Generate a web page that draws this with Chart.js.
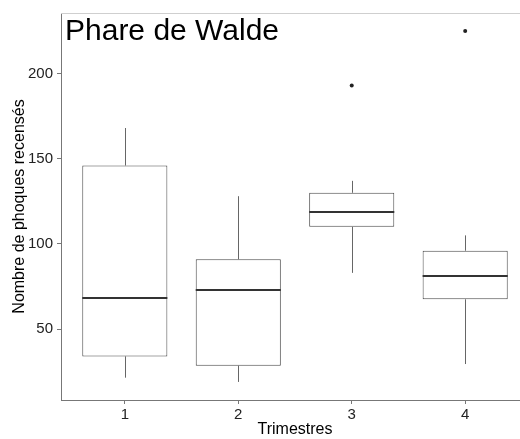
<!DOCTYPE html>
<html>
<head>
<meta charset="utf-8">
<script src="https://cdn.jsdelivr.net/npm/chart.js@4.4.0/dist/chart.umd.min.js"></script>
<style>
  html, body { margin: 0; padding: 0; background: #fff; overflow: hidden; }
  #wrap { width: 533px; height: 439px; position: relative; }
</style>
</head>
<body>
<div id="wrap"><canvas id="chart"></canvas></div>
<script>
  // boxplot stats per trimestre
  const categories  = ['1', '2', '3', '4'];
  const whiskerLow  = [21.5, 19, 83, 29.5];
  const q1          = [34, 28.5, 110, 67.5];
  const median      = [68.5, 73, 119, 81];
  const q3          = [146, 91, 130, 96];
  const whiskerHigh = [168, 128, 137, 105];
  const outlierX    = [3, 4];
  const outlierY    = [193, 225];
  const yTicks      = [50, 100, 150, 200];
  const chartTitle  = 'Phare de Walde';
  const xTitle      = 'Trimestres';
  const yTitle      = 'Nombre de phoques recensés';

  const fontFamily = '"Liberation Sans", Arial, sans-serif';

  const boxPlot = {
    id: 'boxPlot',
    beforeDatasetsDraw(chart) {
      let
        ctx = chart.ctx,
        x = chart.scales.x,
        y = chart.scales.y;

      ctx.save();
      ctx.strokeStyle = '#666';
      ctx.lineWidth = 1;
      categories.forEach(function(c, i) {
        let px = Math.round(x.getPixelForValue(i + 1)) + 0.5;
        ctx.beginPath();
        ctx.moveTo(px, y.getPixelForValue(whiskerHigh[i]));
        ctx.lineTo(px, y.getPixelForValue(q3[i]));
        ctx.moveTo(px, y.getPixelForValue(q1[i]));
        ctx.lineTo(px, y.getPixelForValue(whiskerLow[i]));
        ctx.stroke();
      });
      ctx.restore();
    },
    afterDatasetsDraw(chart) {
      let
        ctx  = chart.ctx,
        area = chart.chartArea,
        y    = chart.scales.y,
        meta = chart.getDatasetMeta(0);

      ctx.save();
      ctx.strokeStyle = '#333';
      ctx.lineWidth = 2;
      meta.data.forEach(function(bar, i) {
        let
          half = bar.width / 2,
          py   = Math.round(y.getPixelForValue(median[i]));
        ctx.beginPath();
        ctx.moveTo(bar.x - half, py);
        ctx.lineTo(bar.x + half, py);
        ctx.stroke();
      });

      // light frame line on top of the panel
      ctx.strokeStyle = '#cfcfcf';
      ctx.lineWidth = 1;
      ctx.beginPath();
      ctx.moveTo(area.left, area.top + 0.5);
      ctx.lineTo(area.right, area.top + 0.5);
      ctx.stroke();

      ctx.fillStyle = '#000';
      ctx.font = '30px ' + fontFamily;
      ctx.textBaseline = 'alphabetic';
      ctx.textAlign = 'left';
      ctx.fillText(chartTitle, area.left + 4, area.top + 27);
      ctx.restore();
    }
  };

  new Chart(document.getElementById('chart').getContext('2d'), {
    type: 'bar',
    data: {
      datasets: [
        {
          type: 'bar',
          data: categories.map(function(c, i) { return { x: i + 1, y: [q1[i], q3[i]] }; }),
          backgroundColor: '#fff',
          borderColor: '#4a4a4a',
          borderWidth: 1,
          borderSkipped: false,
          categoryPercentage: 1,
          barPercentage: 0.75
        },
        {
          type: 'scatter',
          data: outlierX.map(function(v, i) { return { x: v, y: outlierY[i] }; }),
          backgroundColor: '#222',
          borderColor: '#222',
          pointRadius: 2,
          borderWidth: 0
        }
      ]
    },
    options: {
      responsive: true,
      maintainAspectRatio: false,
      animation: false,
      layout: { padding: { top: 12, left: 0, right: 0, bottom: 0 } },
      plugins: {
        legend: { display: false },
        tooltip: { enabled: false },
        title: { display: false }
      },
      scales: {
        x: {
          type: 'linear',
          offset: false,
          min: 0.4375,
          max: 4.5625,
          afterBuildTicks: function(scale) {
            scale.ticks = categories.map(function(c, i) { return { value: i + 1 }; });
          },
          afterFit: function(scale) { scale.height = 39; },
          grid: { offset: false, drawOnChartArea: false, drawTicks: true, tickLength: 4, color: '#777' },
          border: { display: true, color: '#777', width: 1 },
          ticks: {
            padding: 2,
            color: '#222',
            font: { family: fontFamily, size: 15 },
            callback: function(v) { return categories[v - 1]; }
          },
          title: {
            display: true,
            text: xTitle,
            color: '#000',
            font: { family: fontFamily, size: 16 },
            padding: { top: 0, bottom: 0 }
          }
        },
        y: {
          min: 8.4,
          max: 235.5,
          afterBuildTicks: function(scale) {
            scale.ticks = yTicks.map(function(v) { return { value: v }; });
          },
          afterFit: function(scale) { scale.width = 61; },
          grid: { drawOnChartArea: false, drawTicks: true, tickLength: 4, color: '#777' },
          border: { display: true, color: '#777', width: 1 },
          ticks: {
            padding: 4,
            color: '#222',
            font: { family: fontFamily, size: 15 }
          },
          title: {
            display: true,
            text: yTitle,
            color: '#000',
            font: { family: fontFamily, size: 16 },
            padding: { top: 10, bottom: 0 }
          }
        }
      }
    },
    plugins: [boxPlot]
  });
</script>
</body>
</html>
